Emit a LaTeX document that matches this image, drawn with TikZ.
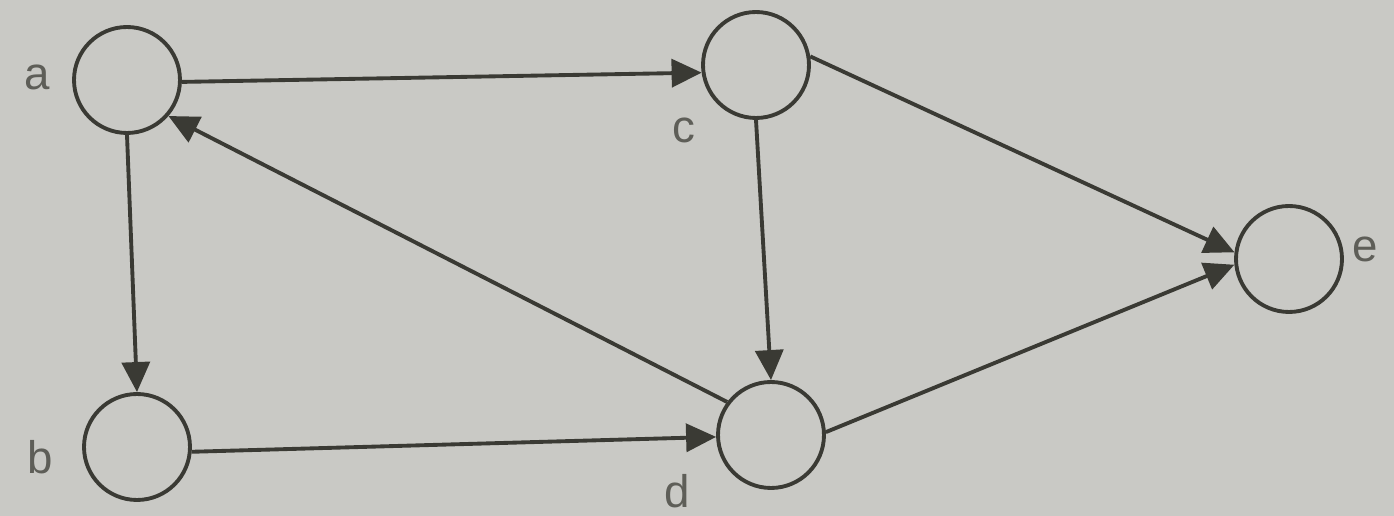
\documentclass[tikz,border=0pt]{standalone}
\usepackage{fontspec}
\setmainfont{Liberation Sans}
\usetikzlibrary{arrows.meta}
\definecolor{bg}{HTML}{C9C9C5}
\definecolor{ink}{HTML}{3A3A34}
\definecolor{lbl}{HTML}{5E5E58}
\tikzset{
  vertex/.style={circle, draw=ink, line width=2.2pt, minimum size=2.12cm, inner sep=0pt},
  lab/.style={text=lbl, font=\fontsize{26}{30}\selectfont, inner sep=0pt},
  edge/.style={draw=ink, line width=2.2pt, -{Triangle[length=0.6cm,width=0.56cm]}}
}
\begin{document}
\begin{tikzpicture}[x=0.02cm,y=-0.02cm]
\fill[bg] (0,0) rectangle (1394,516);
\useasboundingbox (0,0) rectangle (1394,516);
\node[vertex] (a) at (127,80) {};
\node[vertex] (b) at (137,447) {};
\node[vertex] (c) at (756,65) {};
\node[vertex] (d) at (771,435) {};
\node[vertex] (e) at (1289,259) {};
\node[lab] (la) at (37,77) {a};
\node[lab] (lb) at (40,457) {b};
\node[lab] (lc) at (684,130) {c};
\node[lab] (ld) at (677,491) {d};
\node[lab] (le) at (1365,249) {e};
\draw[edge] (a.-2) -- (c.188);
\draw[edge] (a.south) -- (b.north);
\draw[edge] (c.south) -- (d.north);
\draw[edge] (d.143) -- (a.-41);
\draw[edge] (b.-5) -- (d.182);
\draw[edge] (c.9) -- (e.173);
\draw[edge] (d.3) -- (e.186);
\end{tikzpicture}
\end{document}
